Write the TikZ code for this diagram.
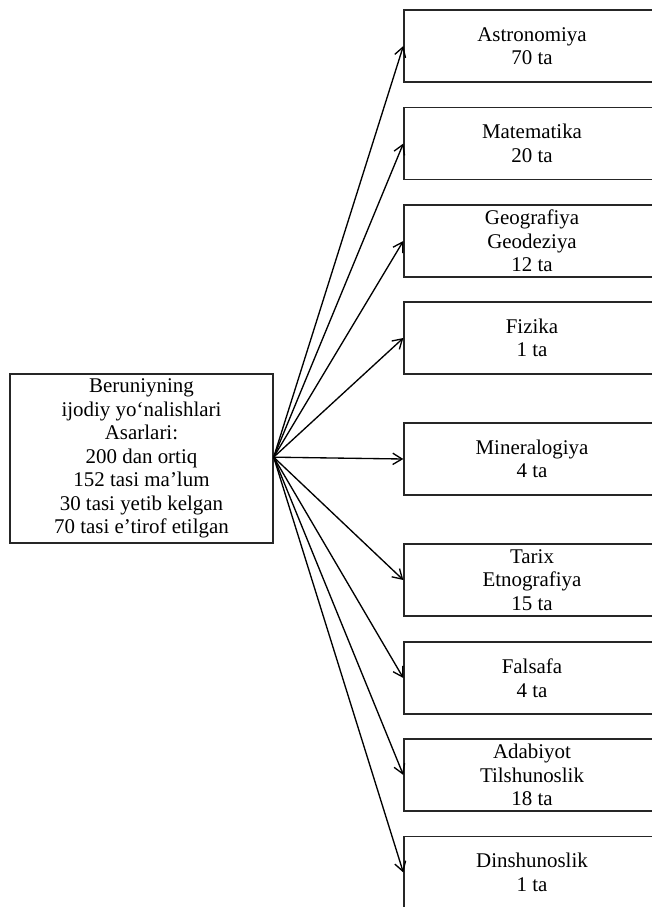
\documentclass[tikz,border=0pt]{standalone}
\usepackage{fontspec}
\setmainfont{Liberation Serif}
\usetikzlibrary{arrows.meta}
\begin{document}
\begin{tikzpicture}[x=0.75pt,y=-0.75pt,
  box/.style={draw=black!85,line width=1pt,align=center,inner sep=0pt,
    font=\fontsize{15.7pt}{17.6pt}\selectfont},
  rbox/.style={box,minimum width=192pt,minimum height=54pt},
  conn/.style={draw=black,line width=1pt,-{Straight Barb[length=7pt,width=8.5pt,line width=1pt]}}]
\clip (0,0) rectangle (652,907);
\node[box,minimum width=197.25pt,minimum height=126.75pt] (src) at (141.5,458.5)
  {Beruniyning\\ijodiy yo‘nalishlari\\Asarlari:\\200 dan ortiq\\152 tasi ma’lum\\30 tasi yetib kelgan\\70 tasi e’tirof etilgan};
\node[rbox] (b1) at (532,46) {Astronomiya\\70 ta};
\node[rbox] (b2) at (532,143.5) {Matematika\\20 ta};
\node[rbox] (b3) at (532,241) {Geografiya\\Geodeziya\\12 ta};
\node[rbox] (b4) at (532,338) {Fizika\\1 ta};
\node[rbox] (b5) at (532,459) {Mineralogiya\\4 ta};
\node[rbox] (b6) at (532,580) {Tarix\\Etnografiya\\15 ta};
\node[rbox] (b7) at (532,678) {Falsafa\\4 ta};
\node[rbox] (b8) at (532,775) {Adabiyot\\Tilshunoslik\\18 ta};
\node[rbox] (b9) at (532,872.5) {Dinshunoslik\\1 ta};
\coordinate (s) at ([yshift=1pt]src.east);
\foreach \i in {1,...,9}{
  \draw[conn] (s) -- (b\i.west);
}
\end{tikzpicture}
\end{document}
